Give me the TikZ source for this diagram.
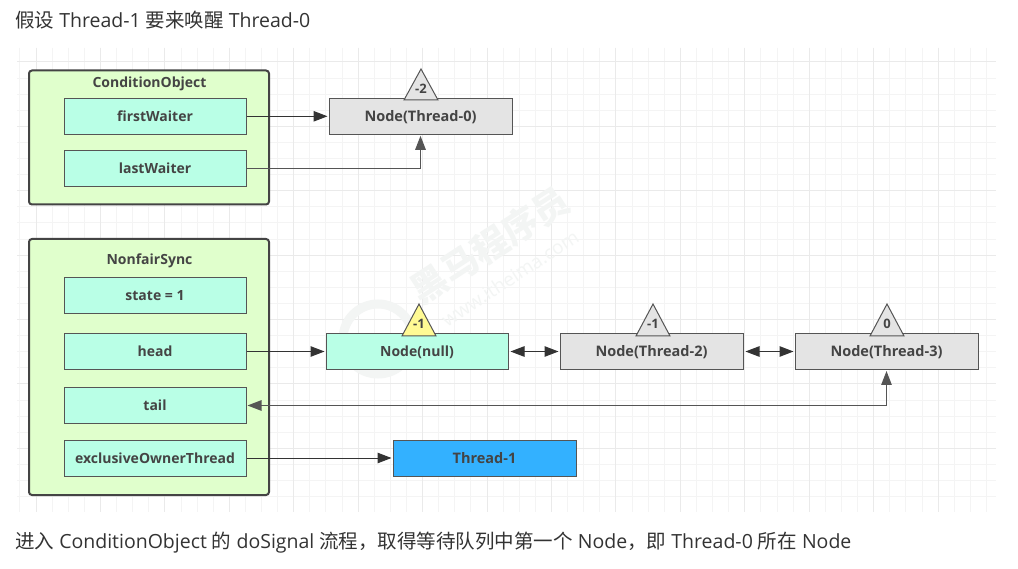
\documentclass[tikz,border=0pt]{standalone}
\usepackage{fontspec}
\setmainfont{Open Sans}
\newfontfamily\cjk{Noto Sans CJK SC}
\usetikzlibrary{arrows.meta}
\definecolor{txt}{HTML}{444444}
\definecolor{para}{HTML}{333333}
\definecolor{edge}{HTML}{555555}
\definecolor{mint}{HTML}{B9FFE6}
\definecolor{lime}{HTML}{E0FFCC}
\definecolor{greybox}{HTML}{E4E4E4}
\definecolor{sky}{HTML}{33B1FF}
\definecolor{pale}{HTML}{FFFA94}
\definecolor{gminor}{HTML}{F4F4F4}
\definecolor{gmajor}{HTML}{EAEAEA}
\definecolor{wm}{HTML}{F3F5F4}
\tikzset{
  box/.style={draw=edge,line width=1pt,minimum width=182pt,minimum height=36pt,inner sep=0pt,font=\fontsize{14.5}{16}\selectfont\bfseries,text=txt,text height=10.5pt,text depth=0.5pt},
  field/.style={box,fill=mint,font=\fontsize{14}{16}\selectfont\bfseries},
  greynode/.style={box,fill=greybox},
  holder/.style={draw=txt,line width=2pt,fill=lime,rounded corners=3pt,inner sep=0pt,minimum width=240pt},
  holdertitle/.style={font=\fontsize{14}{16}\selectfont\bfseries,text=txt,inner sep=0pt,text height=10.5pt,text depth=0.5pt},
  tri/.style={draw=edge,line width=1pt,fill=greybox,line join=miter},
  trilabel/.style={font=\fontsize{13}{14}\selectfont\bfseries,text=txt,inner sep=0pt,text height=9.5pt,text depth=0.5pt},
  link/.style={draw=para,line width=1pt,-{Triangle[length=14pt,width=10.5pt]},shorten >=1pt},
  linkgrey/.style={draw=edge,line width=1.2pt,-{Triangle[length=14pt,width=10.5pt]},shorten >=1pt},
  both/.style={draw=para,line width=1pt,{Triangle[length=14pt,width=10.5pt]}-{Triangle[length=14pt,width=10.5pt]},shorten >=1pt,shorten <=2pt},
  bothgrey/.style={draw=edge,line width=1.2pt,{Triangle[length=14pt,width=10.5pt]}-{Triangle[length=14pt,width=10.5pt]},shorten >=1pt,shorten <=1pt},
  para/.style={font=\fontsize{19.5}{22}\selectfont,text=para,inner sep=0pt,anchor=west},
}
\begin{document}
\begin{tikzpicture}[x=1pt,y=-1pt]
\useasboundingbox (0,0) rectangle (1018,569);
\fill[white] (0,0) rectangle (1018,569);
% grid
\foreach \i in {0,...,60}{
  \pgfmathsetmacro{\gx}{19.9+16.11*\i}
  \ifdim\gx pt<996pt \draw[gminor,line width=1pt] (\gx,48) -- (\gx,512);\fi
}
\foreach \i in {0,...,28}{
  \pgfmathsetmacro{\gy}{62+16.1*\i}
  \ifdim\gy pt<512pt \draw[gminor,line width=1pt] (17,\gy) -- (996,\gy);\fi
}
\foreach \i in {0,...,14}{
  \pgfmathsetmacro{\gx}{36+64.43*\i}
  \draw[gmajor,line width=1pt] (\gx,48) -- (\gx,512);
}
\foreach \i in {0,...,6}{
  \pgfmathsetmacro{\gy}{62+64.4*\i}
  \draw[gmajor,line width=1pt] (17,\gy) -- (996,\gy);
}
% watermark
\draw[wm,line width=9pt] (378,339) circle (35);
\node[rotate=33,font=\cjk\fontsize{36}{40}\selectfont\bfseries,text=wm,inner sep=0pt] (wmA) at (490,245) {黑马程序员};
\node[rotate=33,font=\fontsize{19}{21}\selectfont,text=wm,inner sep=0pt] (wmB) at (510,278) {www.itheima.com};
% title
\node[para] (top) at (15,20) {{\cjk 假设} Thread-1 {\cjk 要来唤醒} Thread-0};
\node[para] (bottom) at (15,542.5) {{\cjk 进入} ConditionObject {\cjk 的} doSignal {\cjk 流程，取得等待队列中第一个} Node{\cjk ，即} Thread-0 {\cjk 所在} Node};
% holders
\node[holder,minimum height=134pt] (cond) at (149,137.5) {};
\node[holdertitle] (condT) at (149.5,82.5) {ConditionObject};
\node[holder,minimum height=256pt] (sync) at (149,367) {};
\node[holdertitle] (syncT) at (149.5,259.5) {NonfairSync};
% fields
\node[field] (first) at (155,116.3) {firstWaiter};
\node[field] (last) at (155,168.3) {lastWaiter};
\node[field] (state) at (155,296) {state = 1};
\node[field] (head) at (155,351.5) {head};
\node[field] (tail) at (155,405.5) {tail};
\node[field] (owner) at (155,458) {exclusiveOwnerThread};
% nodes
\node[greynode,minimum width=183pt] (n0) at (420.5,116.3) {Node(Thread-0)};
\node[field] (nnull) at (417,351.5) {Node(null)};
\node[greynode,minimum width=183pt] (n2) at (651.5,351.5) {Node(Thread-2)};
\node[greynode,minimum width=183pt] (n3) at (886.5,351.5) {Node(Thread-3)};
\node[box,fill=sky,minimum width=183pt] (t1) at (484.5,458) {Thread-1};
% triangles
\draw[tri] (421,69) -- (438,100) -- (404,100) -- cycle;
\node[trilabel] (w0) at (421,89) {-2};
\draw[tri,fill=pale] (419,304) -- (436,336) -- (402,336) -- cycle;
\node[trilabel] (wnull) at (419,324) {-1};
\draw[tri] (653,304) -- (670,336) -- (636,336) -- cycle;
\node[trilabel] (w2) at (653,324) {-1};
\draw[tri] (887,304) -- (904,336) -- (870,336) -- cycle;
\node[trilabel] (w3) at (887,324) {0};
% connectors
\draw[link] (first.east) -- (n0.west);
\draw[linkgrey] (last.east) -| (n0.south);
\draw[link] (head.east) -- (nnull.west);
\draw[both] (nnull.east) -- (n2.west);
\draw[both] (n2.east) -- (n3.west);
\draw[bothgrey] (tail.east) -| (n3.south);
\draw[link] (owner.east) -- (t1.west);
\end{tikzpicture}
\end{document}
